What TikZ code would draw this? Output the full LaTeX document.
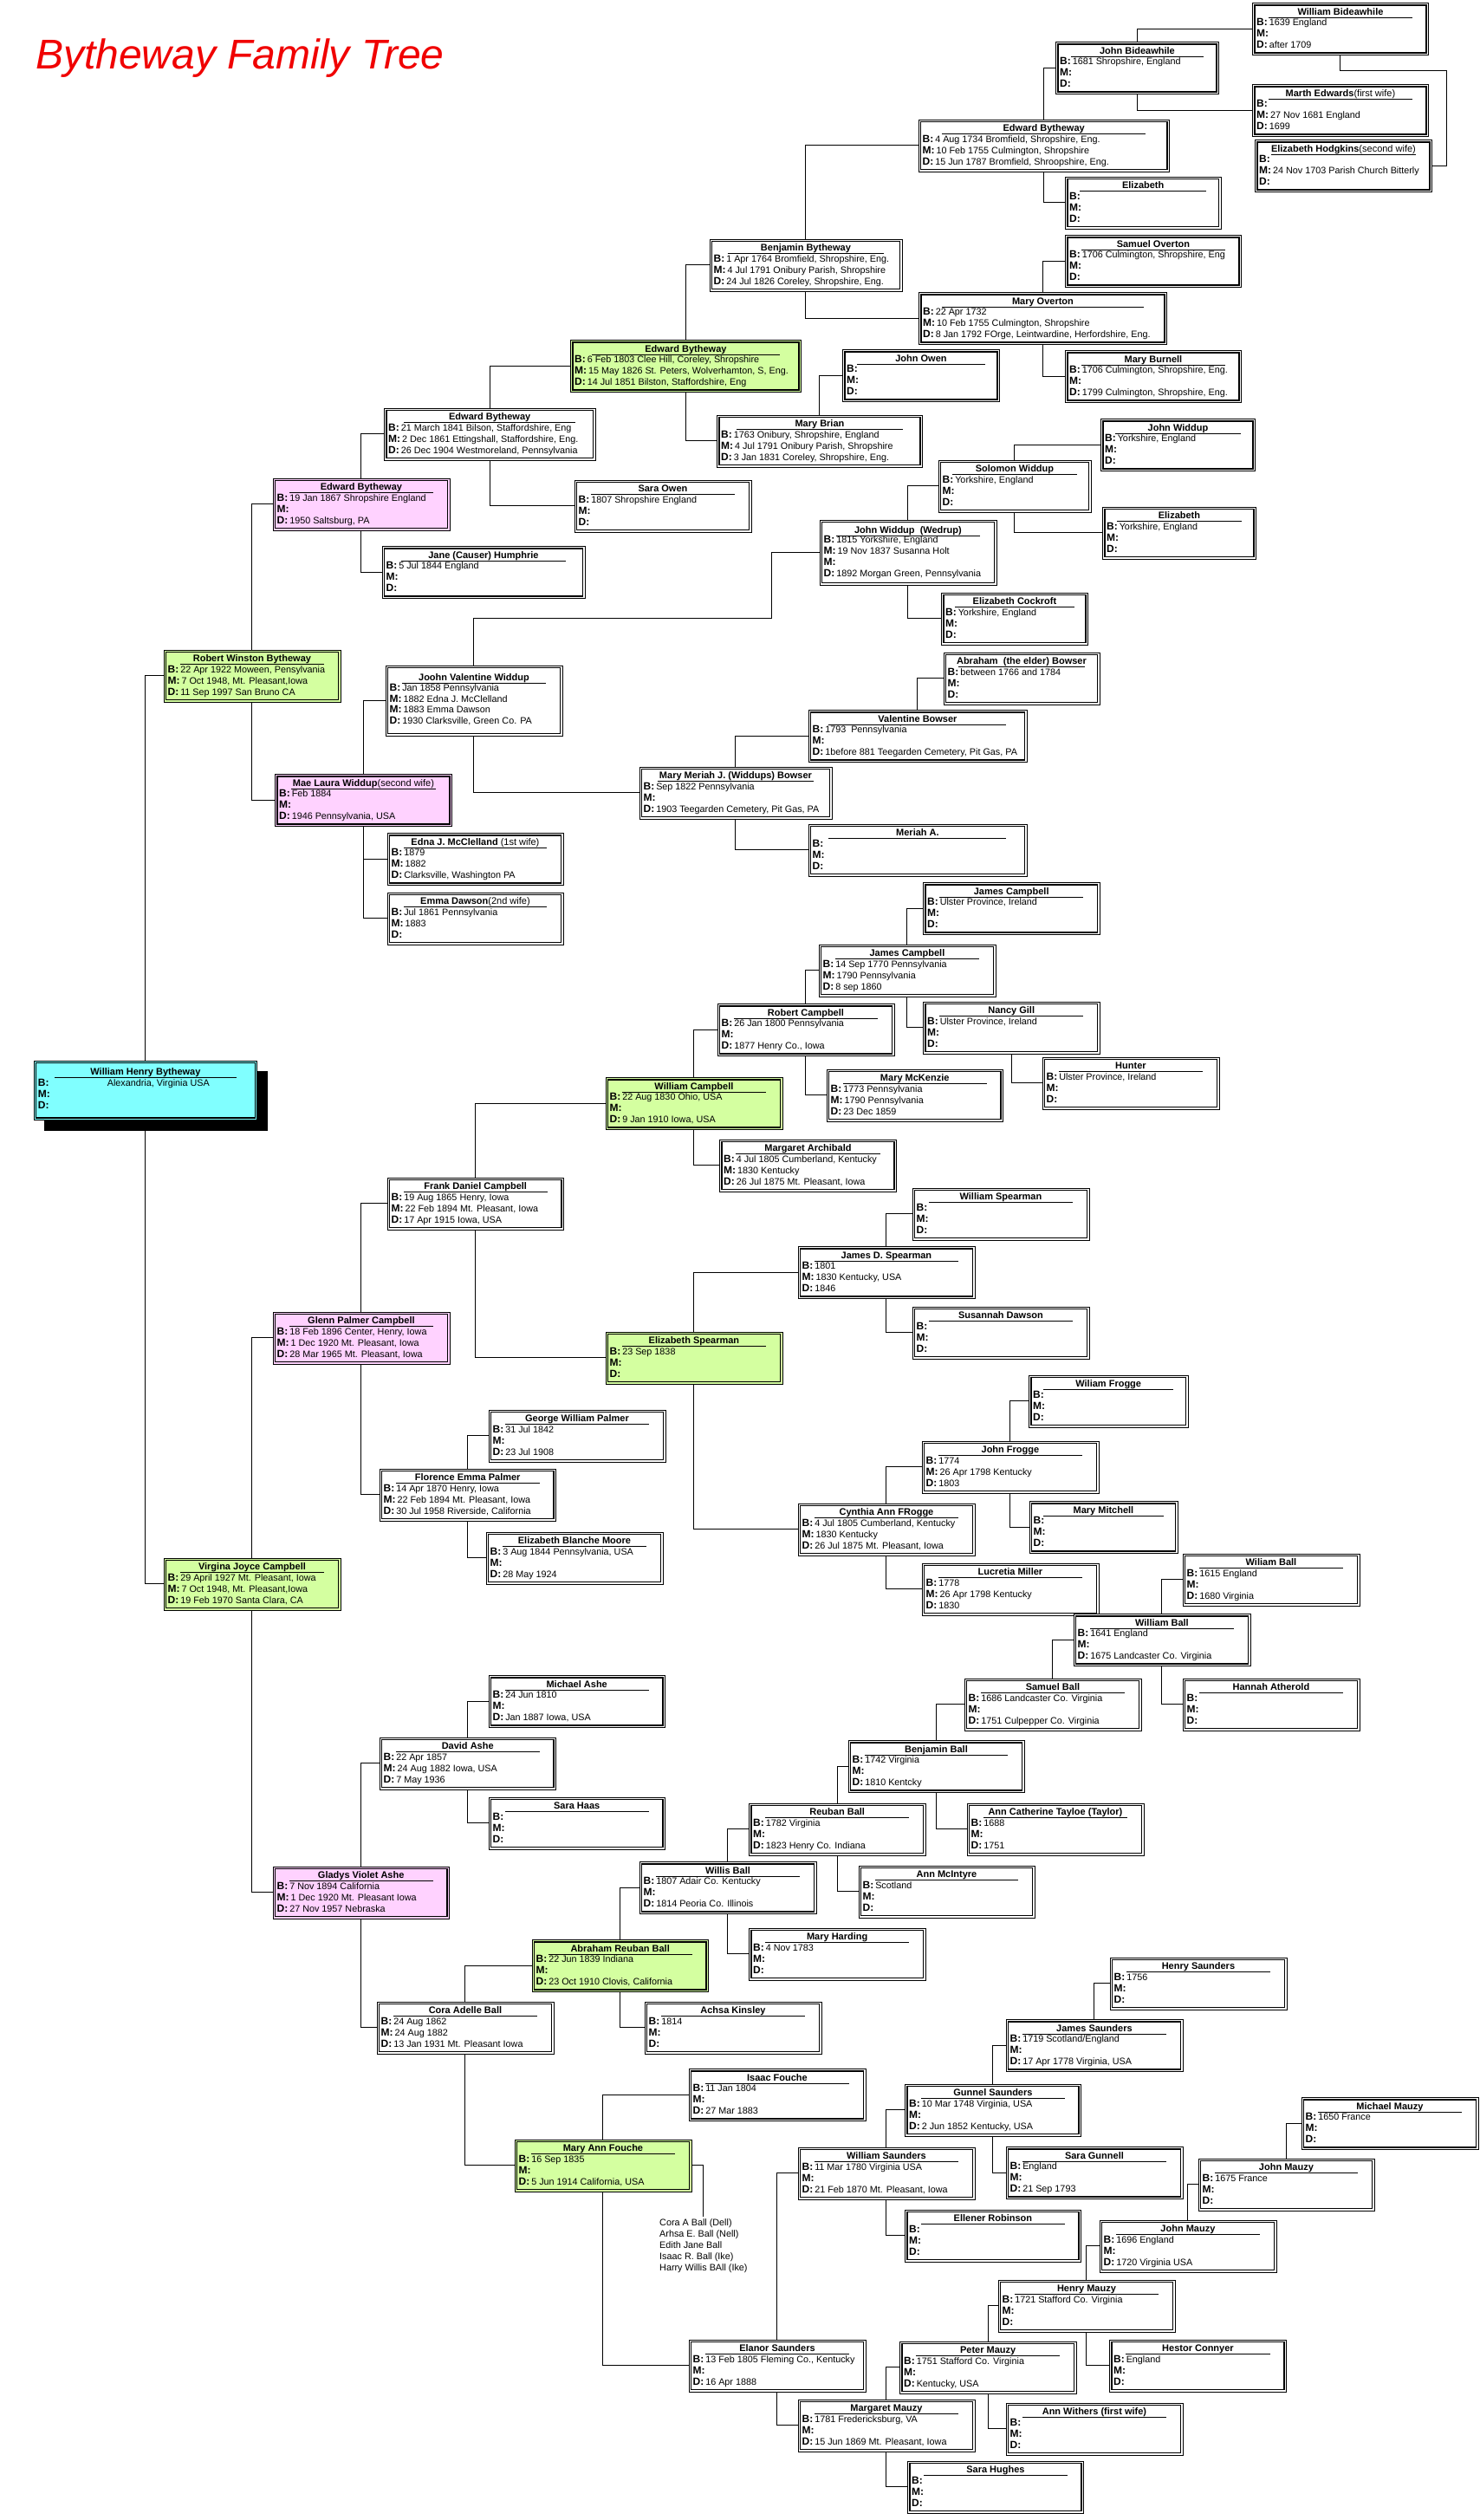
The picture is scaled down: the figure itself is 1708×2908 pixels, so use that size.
\documentclass[tikz,border=0pt]{standalone}
\usepackage{fontspec}
\setmainfont{Liberation Sans}
\usetikzlibrary{calc}
\definecolor{pinkc}{RGB}{255,210,255}
\definecolor{greenc}{RGB}{212,255,160}
\definecolor{cyanc}{RGB}{128,255,255}
\definecolor{titlered}{RGB}{240,0,0}
\pgfdeclarelayer{bg}
\pgfsetlayers{bg,main}
\tikzset{
  pers/.style={draw, line width=0.9pt, inner sep=0pt, anchor=north west},
  innerfrm/.style={line width=1.3pt},
  conn/.style={line width=1pt},
  nm/.style={font=\fontsize{11}{13}\selectfont\bfseries, inner sep=0pt, anchor=base},
  lab/.style={font=\fontsize{12}{14}\selectfont\bfseries, inner sep=0pt, anchor=base west},
  val/.style={font=\fontsize{10.8}{13}\selectfont, inner sep=0pt, anchor=base west},
  uline/.style={line width=0.8pt},
}
% frame: fill, id, x, y, w, h
\newcommand\pfrm[6]{%
  \node[pers, fill=#1, minimum width=#5pt, minimum height=#6pt] (#2) at (#3,-#4) {};
  \draw[innerfrm] ($(#2.north west)+(3,-3)$) rectangle ($(#2.south east)+(-3,3)$);
}
% name: id, w, baseline offset, text
\newcommand\pname[4]{%
  \node[nm] (#1-n) at ($(#1.north)+(0,-#3)$) {#4};
  \draw[uline] ($(#1.north west)+({0.095*#2},{-#3-3})$) -- ($(#1.north east)+({-0.095*#2},{-#3-3})$);
}
% line: id, baseline offset, label, value
\newcommand\pline[4]{%
  \node[lab] (tmp) at ($(#1.north west)+(5,-#2)$) {#3};
  \node[val] (tmpv) at ($(tmp.base east)+(1.5,0)$) {#4};
}
% standard box: fill, id, x, y, w, name, B, M, D
\newcommand\persbox[9]{%
  \pfrm{#1}{#2}{#3}{#4}{#5}{60}
  \pname{#2}{#5}{14}{#6}
  \pline{#2}{26.5}{B:}{#7}
  \pline{#2}{39.5}{M:}{#8}
  \pline{#2}{52.5}{D:}{#9}
}
\begin{document}
\begin{tikzpicture}[x=1pt,y=1pt]
\path[use as bounding box] (0,0) rectangle (1708,-2908);
\begin{pgfonlayer}{bg}
\fill[white] (0,0) rectangle (1708,-2908);
\end{pgfonlayer}

\node[font=\fontsize{48}{50}\selectfont\itshape, text=titlered, anchor=base west, inner sep=0pt] (title) at (41,-79) {Bytheway Family Tree};

% ---- root ----
\fill[black] (50.5,-1235.5) rectangle (308.5,-1305);
\pfrm{cyanc}{whb}{38.75}{1223.6}{257.5}{68.5}
\pname{whb}{257.5}{17}{William Henry Bytheway}
\pline{whb}{30.3}{B:}{}
\pline{whb}{43.2}{M:}{}
\pline{whb}{55.7}{D:}{}
\node[val] (whbb) at (123.6,-1253.9) {Alexandria, Virginia USA};

% ---- top section ----
\persbox{white}{wbide}{1445}{3}{203}{William Bideawhile}{1639  England}{}{after 1709}
\persbox{white}{jbide}{1218}{48}{188}{John Bideawhile}{1681 Shropshire, England}{}{}
\persbox{white}{marth}{1445}{97}{203}{Marth Edwards\textmd{(first wife)}}{}{27 Nov 1681 England}{1699}
\persbox{white}{ehodg}{1448}{161}{204}{Elizabeth Hodgkins\textmd{(second wife)}}{}{24 Nov 1703 Parish Church Bitterly}{}
\persbox{white}{edwa}{1059.5}{137.5}{289.5}{Edward Bytheway}{4 Aug 1734 Bromfield,  Shropshire, Eng.}{10 Feb 1755 Culmington, Shropshire}{15 Jun 1787 Bromfield, Shroopshire, Eng.}
\persbox{white}{elizA}{1229}{203.5}{179.5}{Elizabeth}{}{}{}
\persbox{white}{samov}{1229}{271}{203}{Samuel Overton}{1706 Culmington, Shropshire, Eng}{}{}
\persbox{white}{benj}{818.5}{275.5}{222}{Benjamin Bytheway}{1 Apr 1764 Bromfield,  Shropshire, Eng.}{4 Jul 1791 Onibury Parish, Shropshire}{24 Jul 1826 Coreley, Shropshire, Eng.}
\persbox{white}{maryov}{1060}{337}{286}{Mary Overton}{22 Apr 1732}{10 Feb 1755 Culmington, Shropshire}{8 Jan 1792 FOrge, Leintwardine, Herfordshire, Eng.}
\persbox{greenc}{edwb}{658}{392}{266}{Edward Bytheway}{6 Feb 1803 Clee Hill, Coreley, Shropshire}{15 May 1826 St. Peters, Wolverhamton, S, Eng.}{14 Jul 1851 Bilston, Staffordshire, Eng}
\persbox{white}{jowen}{972}{403}{181}{John Owen}{}{}{}
\persbox{white}{mburn}{1229}{404}{203}{Mary Burnell}{1706 Culmington, Shropshire, Eng.}{}{1799 Culmington, Shropshire, Eng.}
\persbox{white}{mbrian}{827}{478.5}{237}{Mary Brian}{1763 Onibury, Shropshire, England}{4 Jul 1791 Onibury Parish, Shropshire}{3 Jan 1831 Coreley, Shropshire, Eng.}
\persbox{white}{edwc}{443}{470.5}{243.5}{Edward Bytheway}{21 March 1841 Bilson, Staffordshire, Eng}{2 Dec 1861 Ettingshall, Staffordshire, Eng.}{26 Dec 1904 Westmoreland, Pennsylvania}
\persbox{white}{jwidA}{1270}{483}{178}{John Widdup}{Yorkshire, England}{}{}
\persbox{white}{solw}{1082.5}{530.5}{176}{Solomon Widdup}{Yorkshire, England}{}{}
\persbox{white}{sowen}{662.5}{553.5}{204}{Sara Owen}{1807 Shropshire England}{}{}
\persbox{pinkc}{edwd}{314.5}{551.5}{204}{Edward Bytheway}{19 Jan 1867 Shropshire England}{}{1950 Saltsburg, PA}
\persbox{white}{elizB}{1272}{584.5}{177}{Elizabeth}{Yorkshire, England}{}{}
\pfrm{white}{jwed}{945.5}{599.5}{204}{75}
\pname{jwed}{204}{15.5}{John Widdup\ \ (Wedrup)}
\pline{jwed}{27.2}{B:}{1815 Yorkshire, England}
\pline{jwed}{40.2}{M:}{19 Nov 1837 Susanna Holt}
\pline{jwed}{52.8}{M:}{}
\pline{jwed}{65.8}{D:}{1892 Morgan Green, Pennsylvania}
\persbox{white}{jane}{440.5}{630}{234}{Jane (Causer) Humphrie}{5 Jul 1844 England}{}{}
\persbox{white}{ecock}{1086}{683.5}{169}{Elizabeth Cockroft}{Yorkshire, England}{}{}
\persbox{greenc}{robert}{188.5}{749.5}{204}{Robert Winston Bytheway}{22 Apr 1922 Moween, Pensylvania}{7 Oct 1948, Mt. Pleasant,Iowa}{11 Sep 1997 San Bruno CA}
\persbox{white}{abow}{1088.5}{752.5}{180}{Abraham\ \ (the elder) Bowser}{between 1766 and 1784}{}{}
\pfrm{white}{joohn}{444.5}{767.5}{204}{81}
\pname{joohn}{204}{18}{Joohn Valentine Widdup}
\pline{joohn}{30}{B:}{Jan 1858 Pennsylvania}
\pline{joohn}{42.7}{M:}{1882 Edna J. McClelland}
\pline{joohn}{55.2}{M:}{1883 Emma Dawson}
\pline{joohn}{67.8}{D:}{1930 Clarksville, Green Co. PA}
\persbox{white}{vbow}{932.5}{819}{252}{Valentine Bowser}{1793\ \ Pennsylvania}{}{1before 881 Teegarden Cemetery, Pit Gas, PA}
\persbox{white}{mmer}{737.5}{884.5}{222}{Mary Meriah J. (Widdups) Bowser}{Sep 1822 Pennsylvania}{}{1903 Teegarden Cemetery, Pit Gas, PA}
\persbox{pinkc}{mae}{317}{893}{204}{Mae Laura Widdup\textmd{(second wife)}}{Feb 1884}{}{1946 Pennsylvania, USA}
\persbox{white}{meriah}{932.5}{950.5}{252}{Meriah A.}{}{}{}
\persbox{white}{edna}{446.5}{961}{203}{Edna J. McClelland \textmd{(1st wife)}}{1879}{1882}{Clarksville, Washington PA}
\persbox{white}{emma}{446.5}{1029.5}{203}{Emma Dawson\textmd{(2nd wife)}}{Jul 1861 Pennsylvania}{1883}{}

% ---- middle section ----
\persbox{white}{jcA}{1065}{1018}{203.5}{James Campbell}{Ulster Province, Ireland}{}{}
\persbox{white}{jcB}{944.5}{1089.5}{204}{James Campbell}{14 Sep 1770 Pennsylvania}{1790 Pennsylvania}{8 sep 1860}
\persbox{white}{rcamp}{827.5}{1158}{204}{Robert Campbell}{26 Jan 1800 Pennsylvania}{}{1877 Henry Co., Iowa}
\persbox{white}{ngill}{1065}{1155.5}{203.5}{Nancy Gill}{Ulster Province, Ireland}{}{}
\persbox{white}{hunter}{1202.5}{1219.5}{204}{Hunter}{Ulster Province, Ireland}{}{}
\persbox{greenc}{wcamp}{698.5}{1243}{204}{William Campbell}{22 Aug 1830 Ohio, USA}{}{9 Jan 1910 Iowa, USA}
\persbox{white}{mmck}{953.5}{1233.5}{203.5}{Mary McKenzie}{1773 Pennsylvania}{1790 Pennsylvania}{23 Dec 1859}
\persbox{white}{march}{830}{1314.5}{204}{Margaret Archibald}{4 Jul 1805 Cumberland, Kentucky}{1830 Kentucky}{26 Jul 1875 Mt. Pleasant, Iowa}
\persbox{white}{frank}{446.5}{1358.5}{203.5}{Frank Daniel Campbell}{19 Aug 1865 Henry, Iowa}{22 Feb 1894 Mt. Pleasant, Iowa}{17 Apr 1915 Iowa, USA}
\persbox{white}{wspear}{1052.5}{1370.5}{204}{William Spearman}{}{}{}
\persbox{white}{jdspear}{920.5}{1438}{204}{James D. Spearman}{1801}{1830 Kentucky, USA}{1846}
\persbox{white}{sdaw}{1052.5}{1507.5}{204}{Susannah Dawson}{}{}{}
\persbox{pinkc}{glenn}{314.5}{1513.5}{204}{Glenn Palmer Campbell}{18 Feb 1896 Center, Henry, Iowa}{1 Dec 1920 Mt. Pleasant, Iowa}{28 Mar 1965 Mt. Pleasant, Iowa}
\persbox{greenc}{espear}{698.5}{1536.5}{204}{Elizabeth Spearman}{23 Sep 1838}{}{}
\persbox{white}{wfrog}{1187}{1586.5}{183.5}{Wiliam Frogge}{}{}{}
\persbox{white}{gwp}{563.5}{1626.5}{204}{George William Palmer}{31 Jul 1842}{}{23 Jul 1908}
\persbox{white}{jfrog}{1063.5}{1662.5}{204}{John Frogge}{1774}{26 Apr 1798 Kentucky}{1803}
\persbox{white}{fep}{437.5}{1694.5}{203.5}{Florence Emma Palmer}{14 Apr 1870 Henry, Iowa}{22 Feb 1894 Mt. Pleasant, Iowa}{30 Jul 1958 Riverside, California}
\persbox{white}{mmit}{1187.5}{1732}{171}{Mary Mitchell}{}{}{}
\persbox{white}{cynth}{920.5}{1734.5}{204}{Cynthia Ann FRogge}{4 Jul 1805 Cumberland, Kentucky}{1830 Kentucky}{26 Jul 1875 Mt. Pleasant, Iowa}
\persbox{white}{ebm}{560.5}{1767.5}{204}{Elizabeth Blanche Moore}{3 Aug 1844 Pennsylvania, USA}{}{28 May 1924}
\persbox{greenc}{virg}{188.5}{1797.5}{204}{Virgina Joyce Campbell}{29 April 1927 Mt. Pleasant, Iowa}{7 Oct 1948, Mt. Pleasant,Iowa}{19 Feb 1970 Santa Clara, CA}
\persbox{white}{wballA}{1364.5}{1792.5}{204}{Wiliam Ball}{1615 England}{}{1680 Virginia}
\persbox{white}{lucr}{1063.5}{1803.5}{204}{Lucretia Miller}{1778}{26 Apr 1798 Kentucky}{1830}
\persbox{white}{wballB}{1238.5}{1862}{204}{William Ball}{1641 England}{}{1675 Landcaster Co. Virginia}

% ---- lower section ----
\persbox{white}{sball}{1112.5}{1936.5}{204}{Samuel Ball}{1686 Landcaster Co. Virginia}{}{1751 Culpepper Co. Virginia}
\persbox{white}{hath}{1364.5}{1936.5}{204}{Hannah Atherold}{}{}{}
\persbox{white}{mashe}{563.5}{1933}{203.5}{Michael Ashe}{24 Jun 1810}{}{Jan 1887 Iowa, USA}
\persbox{white}{dashe}{437.5}{2004.5}{203.5}{David Ashe}{22 Apr 1857}{24 Aug 1882 Iowa, USA}{7 May 1936}
\persbox{white}{bball}{978.5}{2008}{203}{Benjamin Ball}{1742 Virginia}{}{1810 Kentcky}
\persbox{white}{shaas}{563.5}{2073.5}{203.5}{Sara Haas}{}{}{}
\persbox{white}{actay}{1115.5}{2080.5}{204}{Ann Catherine Tayloe (Taylor)}{1688}{}{1751}
\persbox{white}{rball}{864}{2080.5}{203.5}{Reuban Ball}{1782 Virginia}{}{1823 Henry Co. Indiana}
\persbox{pinkc}{gladys}{314.5}{2153.5}{203.5}{Gladys Violet Ashe}{7 Nov 1894 California}{1 Dec 1920 Mt. Pleasant Iowa}{27 Nov 1957 Nebraska}
\persbox{white}{wilb}{737.5}{2148}{204}{Willis Ball}{1807 Adair Co. Kentucky}{}{1814 Peoria Co. Illinois}
\persbox{white}{amci}{990.5}{2152.5}{203}{Ann McIntyre}{Scotland}{}{}
\persbox{white}{mhard}{864}{2224.5}{203.5}{Mary Harding}{4 Nov 1783}{}{}
\persbox{greenc}{arb}{613.5}{2238}{203.5}{Abraham Reuban Ball}{22 Jun 1839 Indiana}{}{23 Oct 1910 Clovis, California}
\persbox{white}{hsaund}{1280.5}{2258.5}{204}{Henry Saunders}{1756}{}{}
\persbox{white}{achsa}{743.5}{2309.5}{204}{Achsa Kinsley}{1814}{}{}
\persbox{white}{cora}{434.5}{2309.5}{204}{Cora Adelle Ball}{24 Aug 1862}{24 Aug 1882}{13 Jan 1931 Mt. Pleasant Iowa}
\persbox{white}{jsaund}{1160.5}{2330}{204}{James Saunders}{1719 Scotland/England}{}{17 Apr 1778 Virginia, USA}
\persbox{white}{ifouche}{794.5}{2387}{204}{Isaac Fouche}{11 Jan 1804}{}{27 Mar 1883}
\persbox{white}{gunnel}{1044}{2404.5}{203}{Gunnel Saunders}{10 Mar 1748 Virginia, USA}{}{2 Jun 1852 Kentucky, USA}
\persbox{white}{mmauzy}{1501.5}{2420}{204}{Michael Mauzy}{1650 France}{}{}
\persbox{greenc}{maf}{593.5}{2468.5}{204}{Mary Ann Fouche}{16 Sep 1835}{}{5 Jun 1914 California, USA}
\persbox{white}{wsaund}{920.5}{2477.5}{204}{William Saunders}{11 Mar 1780 Virginia USA}{}{21 Feb 1870 Mt. Pleasant, Iowa}
\persbox{white}{sgun}{1160.5}{2477}{204}{Sara Gunnell}{England}{}{21 Sep 1793}
\persbox{white}{jmA}{1382.5}{2490.5}{203}{John Mauzy}{1675 France}{}{}
\persbox{white}{erob}{1044}{2549.5}{203}{Ellener Robinson}{}{}{}
\persbox{white}{jmB}{1268.5}{2561.5}{204}{John Mauzy}{1696 England}{}{1720 Virginia USA}
\persbox{white}{hmauzy}{1151.5}{2630.5}{204}{Henry Mauzy}{1721 Stafford Co. Virginia}{}{}
\persbox{white}{elanor}{794.5}{2699.5}{204}{Elanor Saunders}{13 Feb 1805 Fleming Co., Kentucky}{}{16 Apr 1888}
\persbox{white}{pmauzy}{1038}{2701.5}{203.5}{Peter Mauzy}{1751 Stafford Co. Virginia}{}{Kentucky, USA}
\persbox{white}{hconn}{1280}{2699.5}{204}{Hestor Connyer}{England}{}{}
\persbox{white}{mgmauzy}{920.5}{2768.5}{204}{Margaret Mauzy}{1781 Fredericksburg, VA}{}{15 Jun 1869 Mt. Pleasant, Iowa}
\persbox{white}{awith}{1160.5}{2772.5}{204}{Ann Withers (first wife)}{}{}{}
\persbox{white}{shughes}{1047}{2839.5}{203}{Sara Hughes}{}{}{}

\node[val, anchor=north west, align=left, font=\fontsize{10.8}{13.1}\selectfont] (kids) at (761,-2560) {Cora A Ball (Dell)\\Arhsa E. Ball (Nell)\\Edith Jane Ball\\Isaac R. Ball (Ike)\\Harry Willis BAll (Ike)};

% ---- connectors ----
\coordinate (k1) at (1669.2,-81);
\coordinate (k2) at (890.5,-713.4);
\coordinate (k3) at (811.8,-2558);
\begin{pgfonlayer}{bg}
\draw[conn] (whb.north) |- (robert.west);
\draw[conn] (whb.south) |- (virg.west);
\draw[conn] (robert.north) |- (edwd.west);
\draw[conn] (robert.south) |- (mae.west);
\draw[conn] (virg.north) |- (glenn.west);
\draw[conn] (virg.south) |- (gladys.west);
\draw[conn] (edwd.north) |- (edwc.west);
\draw[conn] (edwd.south) |- (jane.west);
\draw[conn] (edwc.north) |- (edwb.west);
\draw[conn] (edwc.south) |- (sowen.west);
\draw[conn] (edwb.north) |- (benj.west);
\draw[conn] (edwb.south) |- (mbrian.west);
\draw[conn] (benj.north) |- (edwa.west);
\draw[conn] (benj.south) |- (maryov.west);
\draw[conn] (edwa.north) |- (jbide.west);
\draw[conn] (edwa.south) |- (elizA.west);
\draw[conn] (jbide.north) |- (wbide.west);
\draw[conn] (jbide.south) |- (marth.west);
\draw[conn] (wbide.south) |- (k1) |- (ehodg.east);
\draw[conn] (maryov.north) |- (samov.west);
\draw[conn] (maryov.south) |- (mburn.west);
\draw[conn] (mbrian.north) |- (jowen.west);
\draw[conn] (mae.north) |- (joohn.west);
\draw[conn] (mae.south) |- (edna.west);
\draw[conn] (mae.south) |- (emma.west);
\draw[conn] (joohn.north) |- (k2) |- (jwed.west);
\draw[conn] (joohn.south) |- (mmer.west);
\draw[conn] (jwed.north) |- (solw.west);
\draw[conn] (jwed.south) |- (ecock.west);
\draw[conn] (solw.north) |- (jwidA.west);
\draw[conn] (solw.south) |- (elizB.west);
\draw[conn] (mmer.north) |- (vbow.west);
\draw[conn] (mmer.south) |- (meriah.west);
\draw[conn] (vbow.north) |- (abow.west);
\draw[conn] (glenn.north) |- (frank.west);
\draw[conn] (glenn.south) |- (fep.west);
\draw[conn] (frank.north) |- (wcamp.west);
\draw[conn] (frank.south) |- (espear.west);
\draw[conn] (wcamp.north) |- (rcamp.west);
\draw[conn] (wcamp.south) |- (march.west);
\draw[conn] (rcamp.north) |- (jcB.west);
\draw[conn] (rcamp.south) |- (mmck.west);
\draw[conn] (jcB.north) |- (jcA.west);
\draw[conn] (jcB.south) |- (ngill.west);
\draw[conn] (ngill.south) |- (hunter.west);
\draw[conn] (espear.north) |- (jdspear.west);
\draw[conn] (espear.south) |- (cynth.west);
\draw[conn] (jdspear.north) |- (wspear.west);
\draw[conn] (jdspear.south) |- (sdaw.west);
\draw[conn] (cynth.north) |- (jfrog.west);
\draw[conn] (cynth.south) |- (lucr.west);
\draw[conn] (jfrog.north) |- (wfrog.west);
\draw[conn] (jfrog.south) |- (mmit.west);
\draw[conn] (fep.north) |- (gwp.west);
\draw[conn] (fep.south) |- (ebm.west);
\draw[conn] (gladys.north) |- (dashe.west);
\draw[conn] (gladys.south) |- (cora.west);
\draw[conn] (dashe.north) |- (mashe.west);
\draw[conn] (dashe.south) |- (shaas.west);
\draw[conn] (cora.north) |- (arb.west);
\draw[conn] (cora.south) |- (maf.west);
\draw[conn] (arb.north) |- (wilb.west);
\draw[conn] (arb.south) |- (achsa.west);
\draw[conn] (wilb.north) |- (rball.west);
\draw[conn] (wilb.south) |- (mhard.west);
\draw[conn] (rball.north) |- (bball.west);
\draw[conn] (rball.south) |- (amci.west);
\draw[conn] (bball.north) |- (sball.west);
\draw[conn] (bball.south) |- (actay.west);
\draw[conn] (sball.north) |- (wballB.west);
\draw[conn] (wballB.north) |- (wballA.west);
\draw[conn] (wballB.south) |- (hath.west);
\draw[conn] (maf.north) |- (ifouche.west);
\draw[conn] (maf.south) |- (elanor.west);
\draw[conn] (maf.east) -| (k3);
\draw[conn] (elanor.north) |- (wsaund.west);
\draw[conn] (elanor.south) |- (mgmauzy.west);
\draw[conn] (wsaund.north) |- (gunnel.west);
\draw[conn] (wsaund.south) |- (erob.west);
\draw[conn] (gunnel.north) |- (jsaund.west);
\draw[conn] (gunnel.south) |- (sgun.west);
\draw[conn] (jsaund.north) |- (hsaund.west);
\draw[conn] (mgmauzy.north) |- (pmauzy.west);
\draw[conn] (mgmauzy.south) |- (shughes.west);
\draw[conn] (pmauzy.north) |- (hmauzy.west);
\draw[conn] (pmauzy.south) |- (awith.west);
\draw[conn] (hmauzy.north) |- (jmB.west);
\draw[conn] (hmauzy.south) |- (hconn.west);
\draw[conn] (jmB.north) |- (jmA.west);
\draw[conn] (jmA.north) |- (mmauzy.west);
\end{pgfonlayer}
\end{tikzpicture}
\end{document}
